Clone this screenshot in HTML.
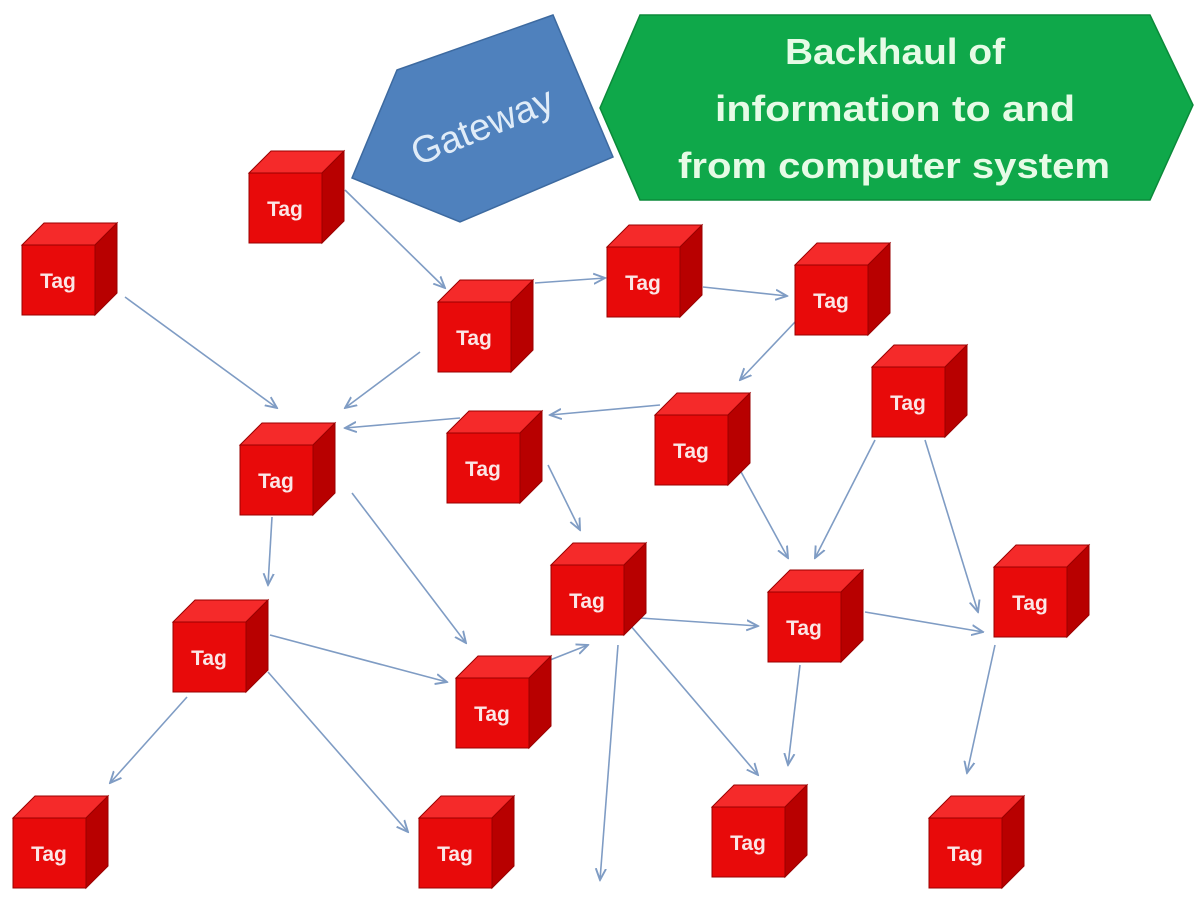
<!DOCTYPE html>
<html><head><meta charset="utf-8"><style>
html,body{margin:0;padding:0;background:#fff;}
svg{display:block}
.t{font-family:"Liberation Sans",sans-serif;font-weight:bold;font-size:21px;fill:#fbe6e6;text-anchor:middle}
.a{stroke:#7f9cc4;stroke-width:1.6;fill:none;marker-end:url(#ah)}
</style></head><body>
<svg width="1200" height="901" viewBox="0 0 1200 901" xmlns="http://www.w3.org/2000/svg">
<defs><marker id="ah" viewBox="0 0 10 10" refX="9" refY="5" markerWidth="8" markerHeight="8" orient="auto"><path d="M0,1 L9,5 L0,9" fill="none" stroke="#7f9cc4" stroke-width="1.5"/></marker></defs>
<polygon points="397,70 553,15 613,157 460,222 352,178" fill="#4f81bd" stroke="#3d6aa0" stroke-width="1.5"/>
<text x="487" y="138" transform="rotate(-22 487 138)" font-family="Liberation Sans,sans-serif" font-size="38" fill="#e0ecf8" text-anchor="middle">Gateway</text>
<polygon points="600,108 640,15 1150,15 1193,105 1150,200 640,200" fill="#0fa84a" stroke="#0b8a3a" stroke-width="1.5"/>
<g font-family="Liberation Sans,sans-serif" font-weight="bold" font-size="36" fill="#e6fbe6" text-anchor="middle">
<text x="895" y="64" textLength="220" lengthAdjust="spacingAndGlyphs">Backhaul of</text>
<text x="895" y="121" textLength="360" lengthAdjust="spacingAndGlyphs">information to and</text>
<text x="894" y="178" textLength="432" lengthAdjust="spacingAndGlyphs">from computer system</text>
</g>
<g>
<line class="a" x1="345" y1="190" x2="445" y2="288"/>
<line class="a" x1="125" y1="297" x2="277" y2="408"/>
<line class="a" x1="420" y1="352" x2="345" y2="408"/>
<line class="a" x1="535" y1="283" x2="605" y2="278"/>
<line class="a" x1="703" y1="287" x2="787" y2="296"/>
<line class="a" x1="795" y1="322" x2="740" y2="380"/>
<line class="a" x1="660" y1="405" x2="550" y2="415"/>
<line class="a" x1="460" y1="418" x2="345" y2="428"/>
<line class="a" x1="548" y1="465" x2="580" y2="530"/>
<line class="a" x1="740" y1="470" x2="788" y2="558"/>
<line class="a" x1="875" y1="440" x2="815" y2="558"/>
<line class="a" x1="925" y1="440" x2="978" y2="612"/>
<line class="a" x1="272" y1="517" x2="268" y2="585"/>
<line class="a" x1="352" y1="493" x2="466" y2="643"/>
<line class="a" x1="270" y1="635" x2="447" y2="682"/>
<line class="a" x1="545" y1="662" x2="588" y2="645"/>
<line class="a" x1="640" y1="618" x2="758" y2="626"/>
<line class="a" x1="865" y1="612" x2="983" y2="632"/>
<line class="a" x1="187" y1="697" x2="110" y2="783"/>
<line class="a" x1="268" y1="672" x2="408" y2="832"/>
<line class="a" x1="618" y1="645" x2="600" y2="880"/>
<line class="a" x1="630" y1="625" x2="758" y2="775"/>
<line class="a" x1="800" y1="665" x2="788" y2="765"/>
<line class="a" x1="995" y1="645" x2="967" y2="773"/>
</g>
<g stroke="#9a0000" stroke-width="1">
<g transform="translate(249,173)"><polygon points="0,0 22,-22 95,-22 73,0" fill="#f52a2a"/><polygon points="73,0 95,-22 95,48 73,70" fill="#b80000"/><rect width="73" height="70" fill="#e80a0a"/><text class="t" x="36" y="43" stroke="none">Tag</text></g>
<g transform="translate(22,245)"><polygon points="0,0 22,-22 95,-22 73,0" fill="#f52a2a"/><polygon points="73,0 95,-22 95,48 73,70" fill="#b80000"/><rect width="73" height="70" fill="#e80a0a"/><text class="t" x="36" y="43" stroke="none">Tag</text></g>
<g transform="translate(438,302)"><polygon points="0,0 22,-22 95,-22 73,0" fill="#f52a2a"/><polygon points="73,0 95,-22 95,48 73,70" fill="#b80000"/><rect width="73" height="70" fill="#e80a0a"/><text class="t" x="36" y="43" stroke="none">Tag</text></g>
<g transform="translate(607,247)"><polygon points="0,0 22,-22 95,-22 73,0" fill="#f52a2a"/><polygon points="73,0 95,-22 95,48 73,70" fill="#b80000"/><rect width="73" height="70" fill="#e80a0a"/><text class="t" x="36" y="43" stroke="none">Tag</text></g>
<g transform="translate(795,265)"><polygon points="0,0 22,-22 95,-22 73,0" fill="#f52a2a"/><polygon points="73,0 95,-22 95,48 73,70" fill="#b80000"/><rect width="73" height="70" fill="#e80a0a"/><text class="t" x="36" y="43" stroke="none">Tag</text></g>
<g transform="translate(872,367)"><polygon points="0,0 22,-22 95,-22 73,0" fill="#f52a2a"/><polygon points="73,0 95,-22 95,48 73,70" fill="#b80000"/><rect width="73" height="70" fill="#e80a0a"/><text class="t" x="36" y="43" stroke="none">Tag</text></g>
<g transform="translate(655,415)"><polygon points="0,0 22,-22 95,-22 73,0" fill="#f52a2a"/><polygon points="73,0 95,-22 95,48 73,70" fill="#b80000"/><rect width="73" height="70" fill="#e80a0a"/><text class="t" x="36" y="43" stroke="none">Tag</text></g>
<g transform="translate(447,433)"><polygon points="0,0 22,-22 95,-22 73,0" fill="#f52a2a"/><polygon points="73,0 95,-22 95,48 73,70" fill="#b80000"/><rect width="73" height="70" fill="#e80a0a"/><text class="t" x="36" y="43" stroke="none">Tag</text></g>
<g transform="translate(240,445)"><polygon points="0,0 22,-22 95,-22 73,0" fill="#f52a2a"/><polygon points="73,0 95,-22 95,48 73,70" fill="#b80000"/><rect width="73" height="70" fill="#e80a0a"/><text class="t" x="36" y="43" stroke="none">Tag</text></g>
<g transform="translate(551,565)"><polygon points="0,0 22,-22 95,-22 73,0" fill="#f52a2a"/><polygon points="73,0 95,-22 95,48 73,70" fill="#b80000"/><rect width="73" height="70" fill="#e80a0a"/><text class="t" x="36" y="43" stroke="none">Tag</text></g>
<g transform="translate(768,592)"><polygon points="0,0 22,-22 95,-22 73,0" fill="#f52a2a"/><polygon points="73,0 95,-22 95,48 73,70" fill="#b80000"/><rect width="73" height="70" fill="#e80a0a"/><text class="t" x="36" y="43" stroke="none">Tag</text></g>
<g transform="translate(994,567)"><polygon points="0,0 22,-22 95,-22 73,0" fill="#f52a2a"/><polygon points="73,0 95,-22 95,48 73,70" fill="#b80000"/><rect width="73" height="70" fill="#e80a0a"/><text class="t" x="36" y="43" stroke="none">Tag</text></g>
<g transform="translate(173,622)"><polygon points="0,0 22,-22 95,-22 73,0" fill="#f52a2a"/><polygon points="73,0 95,-22 95,48 73,70" fill="#b80000"/><rect width="73" height="70" fill="#e80a0a"/><text class="t" x="36" y="43" stroke="none">Tag</text></g>
<g transform="translate(456,678)"><polygon points="0,0 22,-22 95,-22 73,0" fill="#f52a2a"/><polygon points="73,0 95,-22 95,48 73,70" fill="#b80000"/><rect width="73" height="70" fill="#e80a0a"/><text class="t" x="36" y="43" stroke="none">Tag</text></g>
<g transform="translate(13,818)"><polygon points="0,0 22,-22 95,-22 73,0" fill="#f52a2a"/><polygon points="73,0 95,-22 95,48 73,70" fill="#b80000"/><rect width="73" height="70" fill="#e80a0a"/><text class="t" x="36" y="43" stroke="none">Tag</text></g>
<g transform="translate(419,818)"><polygon points="0,0 22,-22 95,-22 73,0" fill="#f52a2a"/><polygon points="73,0 95,-22 95,48 73,70" fill="#b80000"/><rect width="73" height="70" fill="#e80a0a"/><text class="t" x="36" y="43" stroke="none">Tag</text></g>
<g transform="translate(712,807)"><polygon points="0,0 22,-22 95,-22 73,0" fill="#f52a2a"/><polygon points="73,0 95,-22 95,48 73,70" fill="#b80000"/><rect width="73" height="70" fill="#e80a0a"/><text class="t" x="36" y="43" stroke="none">Tag</text></g>
<g transform="translate(929,818)"><polygon points="0,0 22,-22 95,-22 73,0" fill="#f52a2a"/><polygon points="73,0 95,-22 95,48 73,70" fill="#b80000"/><rect width="73" height="70" fill="#e80a0a"/><text class="t" x="36" y="43" stroke="none">Tag</text></g>
</g>
</svg>
</body></html>
